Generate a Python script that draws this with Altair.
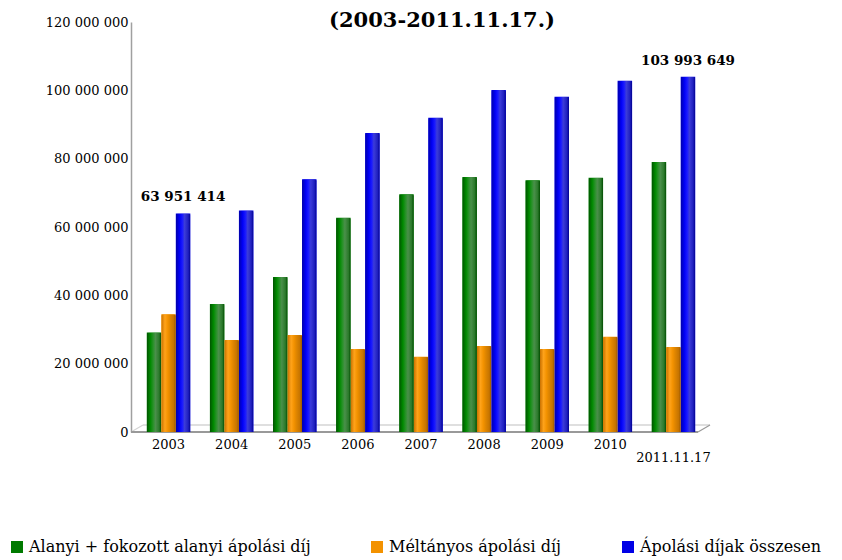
import altair as alt
import pandas as pd

# ---- data ----
years = ["2003", "2004", "2005", "2006", "2007", "2008", "2009", "2010", "2011.11.17"]
series = ["Alanyi + fokozott alanyi ápolási díj", "Méltányos ápolási díj", "Ápolási díjak összesen"]
alanyi = [29100000, 37500000, 45400000, 62700000, 69600000, 74600000, 73700000, 74400000, 79000000]
meltanyos = [34500000, 26900000, 28400000, 24300000, 22000000, 25200000, 24300000, 27900000, 24900000]
osszesen = [63951414, 64800000, 74000000, 87500000, 92000000, 100100000, 98100000, 102800000, 103993649]
labelled_years = ["2003", "2011.11.17"]
y_ticks = [0, 20000000, 40000000, 60000000, 80000000, 100000000, 120000000]
title_text = "(2003-2011.11.17.)"
colors = ["#007a00", "#f39200", "#0000e6"]

rows = []
for s, vals in zip(series, [alanyi, meltanyos, osszesen]):
    for yv, v in zip(years, vals):
        rows.append({"year": yv, "series": s, "value": v})
df = pd.DataFrame(rows)

W, H = 580, 410
FONT = "DejaVu Serif"

xscale = alt.Scale(domain=years, paddingInner=0.31, paddingOuter=0.25)
oscale = alt.Scale(domain=series, paddingInner=0, paddingOuter=0)
yscale = alt.Scale(domain=[0, 120000000], nice=False)

fmt = "replace(format(datum.value, ','), regexp(',', 'g'), ' ')"

x_enc = alt.X("year:N", scale=xscale, sort=years,
              axis=alt.Axis(title=None, domain=False, ticks=False, labelAngle=0,
                            labelFont=FONT, labelFontSize=13, labelColor="black",
                            labelPadding=6, labelLineHeight=13,
                            labelExpr="datum.label == '2011.11.17' ? ['', datum.label] : datum.label"))
y_enc = alt.Y("value:Q", scale=yscale,
              axis=alt.Axis(title=None, values=y_ticks, grid=False, ticks=False,
                            domainColor="#a0a0a0", domainWidth=1.5,
                            labelFont=FONT, labelFontSize=13, labelColor="black",
                            labelPadding=3, labelExpr=fmt))
xo_enc = alt.XOffset("series:N", scale=oscale, sort=series)

base = alt.Chart(df)

bars = base.mark_bar().encode(
    x=x_enc, xOffset=xo_enc, y=y_enc,
    color=alt.Color("series:N", scale=alt.Scale(domain=series, range=colors), sort=series,
                    legend=alt.Legend(title=None, orient="none", legendX=-122, legendY=517,
                                      direction="horizontal", symbolType="square",
                                      symbolSize=144, symbolStrokeWidth=0, symbolOpacity=1,
                                      labelFont=FONT, labelFontSize=16, labelColor="black",
                                      labelLimit=0, labelOffset=4, columnPadding=58, padding=0)),
)

grad_stops = {
    series[0]: ["#005200", "#008a00", "#2a922a", "#4a8f4a", "#2b7a2b", "#004a00"],
    series[1]: ["#c87000", "#ffa31a", "#f39200", "#e08600", "#c67400", "#9a5800"],
    series[2]: ["#0000a8", "#0000f5", "#1a1aff", "#3c3cd8", "#2020c0", "#000090"],
}
offsets = [0.0, 0.25, 0.45, 0.6, 0.85, 1.0]

grad_layers = []
for s in series:
    g = alt.Gradient(gradient="linear", x1=0, x2=1, y1=0, y2=0,
                     stops=[alt.GradientStop(color=c, offset=o) for c, o in zip(grad_stops[s], offsets)])
    grad_layers.append(
        base.transform_filter(alt.datum.series == s)
        .mark_bar(fill=g, cornerRadiusTopLeft=2, cornerRadiusTopRight=2)
        .encode(x=x_enc, xOffset=xo_enc, y=y_enc)
    )

labels = (
    base.transform_filter(alt.datum.series == series[2])
    .transform_filter(alt.FieldOneOfPredicate(field="year", oneOf=labelled_years))
    .transform_calculate(lbl=fmt)
    .mark_text(font=FONT, fontSize=13.5, fontWeight="bold", color="black",
               baseline="alphabetic", dy=-12)
    .encode(x=x_enc, xOffset=xo_enc, y=y_enc, text="lbl:N")
)

one = alt.Chart(pd.DataFrame({"t": [title_text]}))
floor_front = one.mark_rule(color="#999999", strokeWidth=2).encode(
    x=alt.value(0), x2=alt.value(W - 13), y=alt.value(H))
floor_back = one.mark_rule(color="#d4d4d4", strokeWidth=1.5).encode(
    x=alt.value(12), x2=alt.value(W - 1), y=alt.value(H - 7))
floor_left = one.mark_rule(color="#d4d4d4", strokeWidth=1.2).encode(
    x=alt.value(0), x2=alt.value(12), y=alt.value(H), y2=alt.value(H - 7))
floor_right = one.mark_rule(color="#999999", strokeWidth=1.2).encode(
    x=alt.value(W - 13), x2=alt.value(W - 1), y=alt.value(H), y2=alt.value(H - 7))

title = one.mark_text(font=FONT, fontSize=21, fontWeight="bold", color="black",
                      baseline="alphabetic", align="center").encode(
    text="t:N", x=alt.value(311), y=alt.value(5))

chart = alt.layer(
    floor_back, floor_left, floor_front, floor_right,
    bars, *grad_layers, labels, title,
).properties(
    width=W, height=H,
    padding={"left": 123, "top": 14, "right": 115, "bottom": 124},
    autosize=alt.AutoSizeParams(type="none"),
).configure_view(stroke=None)

chart.save("out.html", embed_options={"renderer": "svg", "actions": False})
